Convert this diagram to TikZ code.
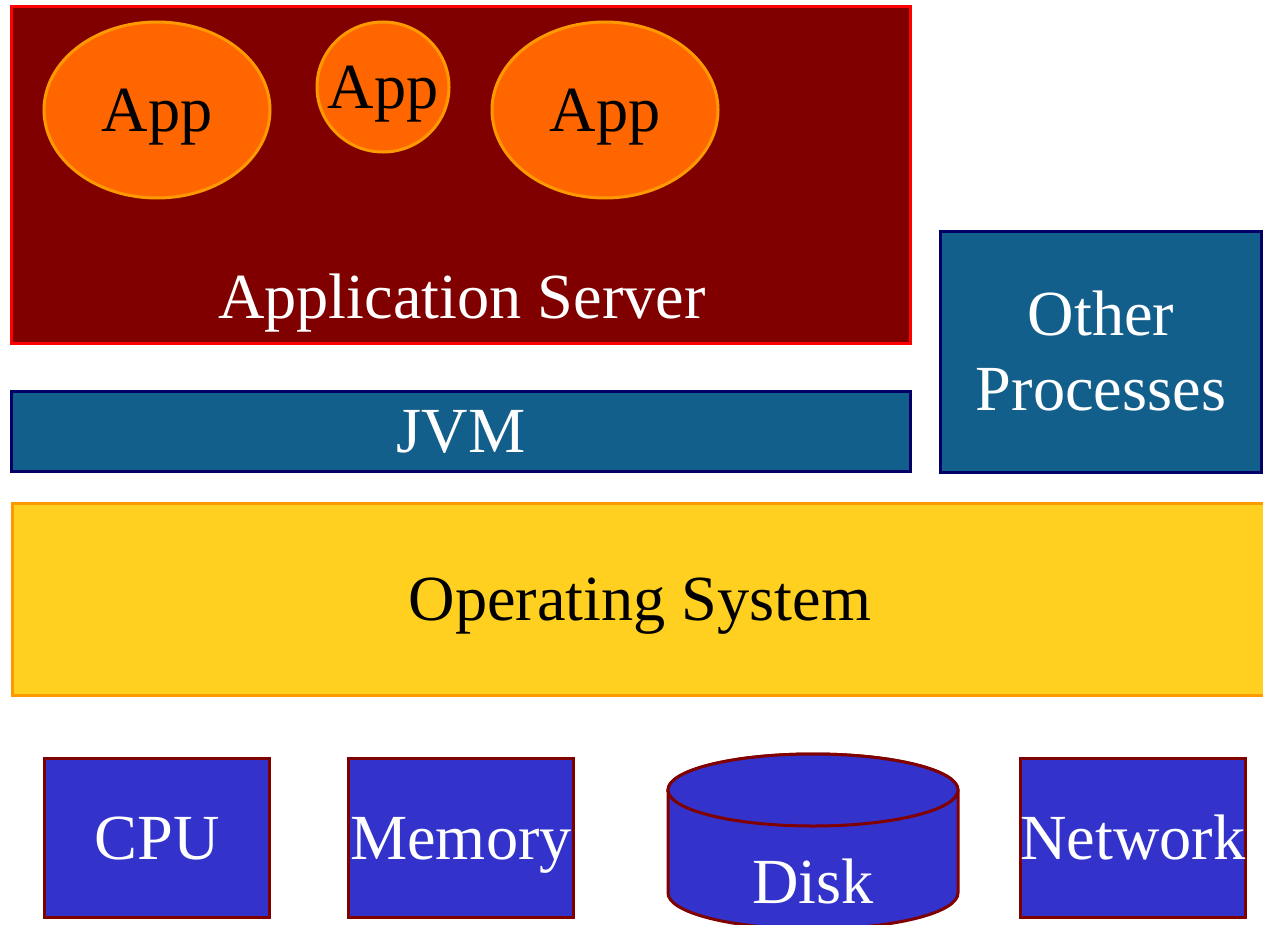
\documentclass[tikz,border=0pt]{standalone}
\usepackage{fontspec}
\setmainfont{Liberation Serif}
\usepackage{xcolor}
\usepackage{tikz}
\usetikzlibrary{shapes.geometric,positioning}

\definecolor{srvred}{RGB}{128,0,0}
\definecolor{appfill}{RGB}{255,102,0}
\definecolor{appline}{RGB}{255,153,0}
\definecolor{jvmblue}{RGB}{19,95,140}
\definecolor{navyline}{RGB}{0,0,102}
\definecolor{osyellow}{RGB}{255,208,32}
\definecolor{hwblue}{RGB}{51,51,204}

\begin{document}
\begin{tikzpicture}[
			x=0.2mm, y=-0.2mm,
			every node/.style={font=\fontsize{36.6}{43}\selectfont, text height=24.2pt, text depth=0pt, inner sep=0pt},
			server/.style={rectangle,draw=red,fill=srvred,line width=0.6mm},
			app/.style={ellipse,draw=appline,fill=appfill,line width=0.6mm},
			layer/.style={rectangle,draw=navyline,fill=jvmblue,line width=0.6mm,text=white},
			os/.style={rectangle,draw=appline,fill=osyellow,line width=0.6mm},
			hw/.style={rectangle,draw=srvred,fill=hwblue,line width=0.6mm,text=white,
				minimum width=45mm,minimum height=31.8mm},
			disc/.style={draw=srvred,fill=hwblue,line width=0.6mm}
		]
		\useasboundingbox (0,0) rectangle (1263,925);

		\node[server,minimum width=179.6mm,minimum height=67.2mm] (appsrv) at (461,175) {};
		\node[app,minimum width=45.2mm,minimum height=35.2mm] (app1) at (157,110) {App};
		\node[app,inner xsep=-1.8mm,minimum width=26.4mm,minimum height=26mm] (app2) at (383,87) {App};
		\node[app,minimum width=45.2mm,minimum height=35.2mm] (app3) at (605,110) {App};
		\node[text=white] (appsrvlbl) at (462,297) {Application Server};

		\node[layer,minimum width=179.6mm,minimum height=16mm] (jvm) at (461,431) {JVM};
		\node[layer,minimum width=64.2mm,minimum height=48mm,align=center,text height=67pt] (other) at (1101,352) {Other\\Processes};

		\node[os,minimum width=251mm,minimum height=38.4mm] (os) at (640,599) {Operating System};

		\node[hw] (cpu) at (157,838) {CPU};
		\node[hw] (mem) at (461,838) {Memory};
		% disk drawn as a cylinder
		\filldraw[disc] (668,790) -- (668,893) arc[start angle=180,end angle=360,x radius=29mm,y radius=7.2mm]
			-- (958,790) arc[start angle=0,end angle=180,x radius=29mm,y radius=7.2mm] -- cycle;
		\filldraw[disc] (813,790) ellipse[x radius=29mm,y radius=7.2mm];
		\node[text=white] (disk) at (813,882) {Disk};
		\node[hw] (net) at (1133,838) {Network};
	\end{tikzpicture}
\end{document}
